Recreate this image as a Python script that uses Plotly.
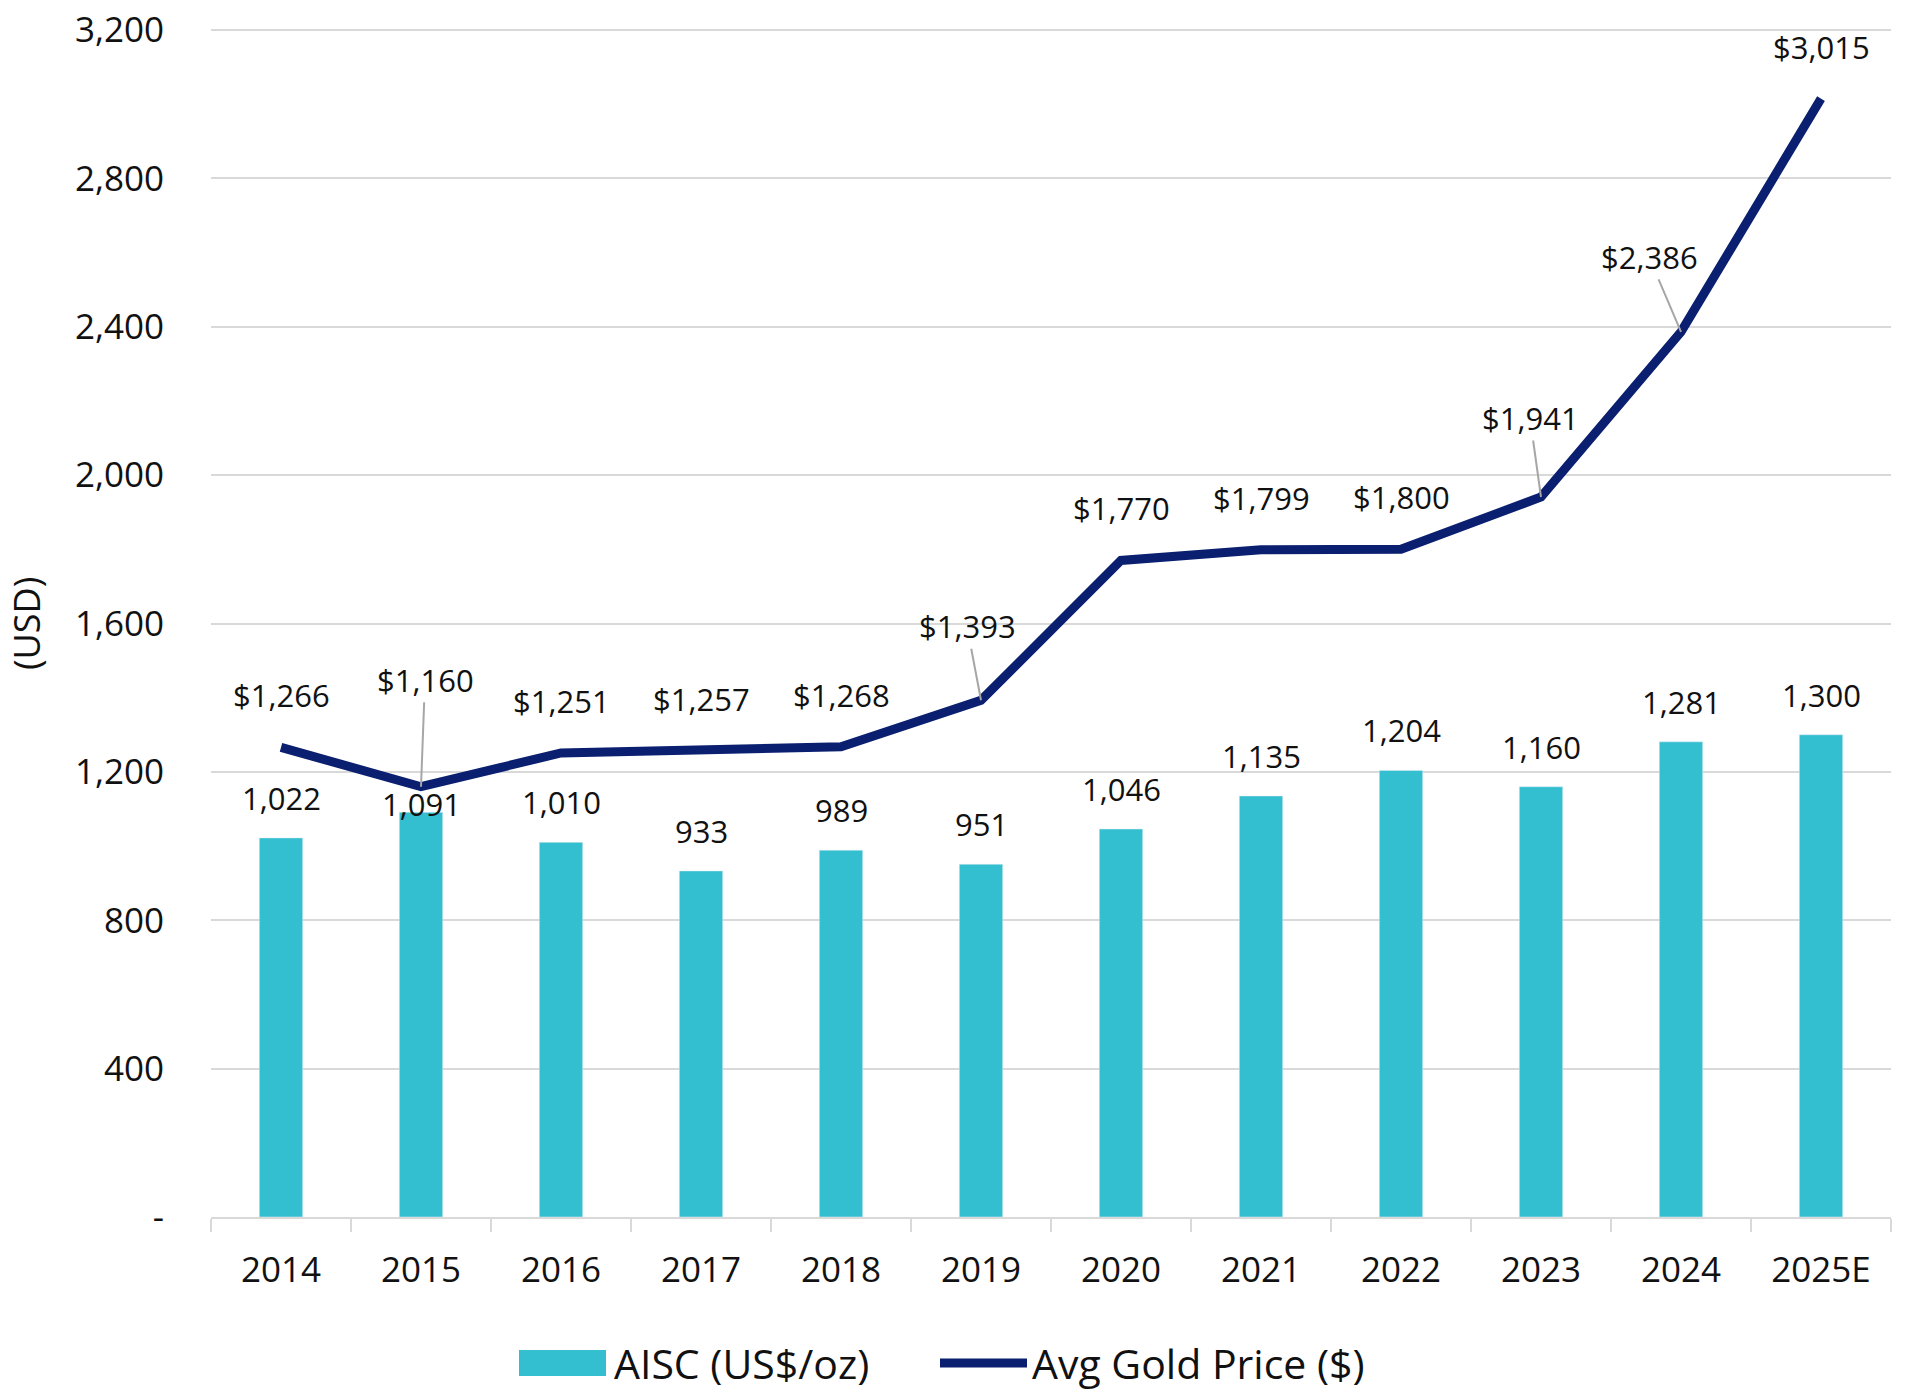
import plotly.graph_objects as go

years = ["2014", "2015", "2016", "2017", "2018", "2019", "2020", "2021", "2022", "2023", "2024", "2025E"]
aisc = [1022, 1091, 1010, 933, 989, 951, 1046, 1135, 1204, 1160, 1281, 1300]
gold = [1266, 1160, 1251, 1257, 1268, 1393, 1770, 1799, 1800, 1941, 2386, 3015]
y_ticks = [0, 400, 800, 1200, 1600, 2000, 2400, 2800, 3200]
y_tick_text = ["-", "400", "800", "1,200", "1,600", "2,000", "2,400", "2,800", "3,200"]

BAR_COLOR = "#33bfcf"
LINE_COLOR = "#0a1f70"
FONT = "Open Sans"
W, H = 1921, 1395
PX_PER_UNIT = (1217 - 30) / 3200.0
TOP_PAD = 4  # px of plot area above the 3,200 gridline so it is not clipped
ML, MR, MT, MB = 211, 30, 30 - TOP_PAD, 178
Y_MAX = 3200 + TOP_PAD / PX_PER_UNIT
PW = W - ML - MR
PH = H - MT - MB

fig = go.Figure()
fig.add_trace(go.Bar(x=years, y=aisc, name="AISC (US$/oz)", marker_color=BAR_COLOR,
                     width=0.31, showlegend=False))
fig.add_trace(go.Scatter(x=years, y=gold, name="Avg Gold Price ($)", mode="lines",
                         line=dict(color=LINE_COLOR, width=9), showlegend=False))

ann = []
# bar labels (x given as category index)
for i, (yr, v) in enumerate(zip(years, aisc)):
    shift = 8 if yr == "2015" else 40
    ann.append(dict(x=i, y=v, text=f"{v:,}", showarrow=False, yanchor="middle",
                    yshift=shift, font=dict(size=31, color="#111", family=FONT)))
# gold labels
leaders = {"2015": (4, -107), "2019": (-14, -74), "2023": (-11, -79), "2024": (-32, -75)}
for i, (yr, v) in enumerate(zip(years, gold)):
    txt = f"${v:,}"
    if yr in leaders:
        ax, ay = leaders[yr]
        ann.append(dict(x=i, y=v, text=txt, showarrow=True, arrowhead=0, arrowwidth=2,
                        arrowcolor="#a6a6a6", ax=ax, ay=ay, standoff=0,
                        font=dict(size=31, color="#111", family=FONT)))
    else:
        ann.append(dict(x=i, y=v, text=txt, showarrow=False, yanchor="middle",
                        yshift=52, font=dict(size=31, color="#111", family=FONT)))


def px_x(p):
    return (p - ML) / PW


def px_y(p):
    return (H - MB - p) / PH


# y axis title
ann.append(dict(xref="paper", yref="paper", x=px_x(26), y=px_y(624), text="(USD)",
                textangle=-90, showarrow=False, xanchor="center", yanchor="middle",
                font=dict(size=36, color="#111", family=FONT)))

# manual legend
ly = 1363
shapes = [
    dict(type="rect", xref="paper", yref="paper", x0=px_x(519), x1=px_x(606),
         y0=px_y(ly + 13), y1=px_y(ly - 13), fillcolor=BAR_COLOR, line=dict(width=0)),
    dict(type="line", xref="paper", yref="paper", x0=px_x(940), x1=px_x(1027),
         y0=px_y(ly), y1=px_y(ly), line=dict(color=LINE_COLOR, width=9)),
]
ann.append(dict(xref="paper", yref="paper", x=px_x(612), y=px_y(ly), text="AISC (US$/oz)",
                showarrow=False, xanchor="left", yanchor="middle",
                font=dict(size=41, color="#111", family=FONT)))
ann.append(dict(xref="paper", yref="paper", x=px_x(1030), y=px_y(ly), text="Avg Gold Price ($)",
                showarrow=False, xanchor="left", yanchor="middle",
                font=dict(size=41, color="#111", family=FONT)))

fig.update_layout(
    width=W, height=H,
    margin=dict(l=ML, r=MR, t=MT, b=MB, autoexpand=False),
    paper_bgcolor="white", plot_bgcolor="white",
    font=dict(family=FONT, color="#111"),
    annotations=ann, shapes=shapes,
    showlegend=False,
)
fig.update_xaxes(type="category", range=[-0.5, 11.5], showline=True, linecolor="#d9d9d9",
                 linewidth=2, ticks="outside", tickson="boundaries", ticklen=13,
                 tickcolor="#d9d9d9", tickwidth=2, tickangle=0, automargin=False,
                 tickfont=dict(size=35, family=FONT, color="#111"),
                 ticklabelstandoff=21, showgrid=False)
fig.update_yaxes(range=[0, Y_MAX], tickvals=y_ticks, ticktext=y_tick_text,
                 showgrid=True, gridcolor="#d9d9d9", gridwidth=2, zeroline=False,
                 showline=False, ticks="", ticklabelstandoff=46, ticklabeloverflow="allow",
                 automargin=False, tickfont=dict(size=35, family=FONT, color="#111"))

fig.write_html("out.html", config={"displayModeBar": False},
               post_script="document.body.style.margin='0px';document.body.style.overflow='hidden';")
